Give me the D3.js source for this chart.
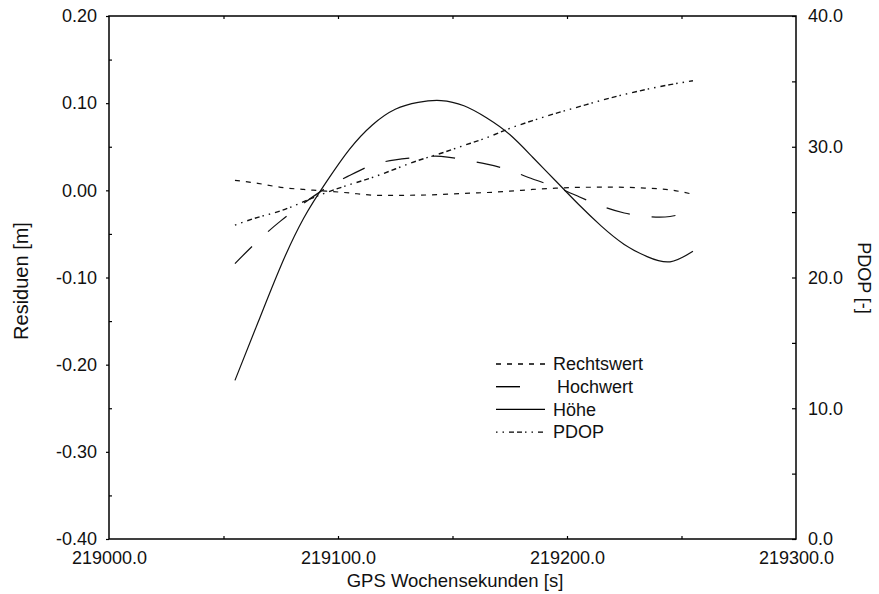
<!DOCTYPE html>
<html><head><meta charset="utf-8">
<script src="https://cdn.jsdelivr.net/npm/d3@7"></script>
<style>
body{margin:0;background:#fff;}
text{font-family:"Liberation Sans",Arial,sans-serif;fill:#111;}
</style></head><body>
<svg id="c" width="879" height="594"></svg>
<script>
const times = [219055,219065,219075,219085,219095,219105,219115,219125,219135,219145,219155,219165,219175,219185,219195,219205,219215,219225,219235,219245,219255];
const rechtswert = [0.0115,0.008,0.0035,0.001,-0.001,-0.003,-0.0055,-0.0058,-0.0055,-0.0048,-0.0035,-0.0025,-0.001,0.001,0.0025,0.0034,0.0036,0.0035,0.0025,0.0005,-0.0045];
const hochwert = [-0.084,-0.058,-0.035,-0.015,0.003,0.017,0.029,0.035,0.038,0.039,0.035,0.030,0.023,0.013,0.004,-0.007,-0.018,-0.026,-0.030,-0.030,-0.023];
const hoehe = [-0.218,-0.152,-0.087,-0.032,0.010,0.047,0.075,0.093,0.101,0.103,0.097,0.083,0.064,0.038,0.011,-0.016,-0.041,-0.062,-0.076,-0.082,-0.070];
const pdop = [24.0,24.6,25.1,25.8,26.5,27.1,27.65,28.3,28.95,29.5,30.1,30.7,31.4,32.0,32.55,33.05,33.55,34.0,34.4,34.75,35.05];
const seriesNames = ["Rechtswert","Hochwert","Höhe","PDOP"];
const xTicks = [219000,219100,219200,219300];
const yLeftTicks = [-0.4,-0.3,-0.2,-0.1,0,0.1,0.2];
const yRightTicks = [0,10,20,30,40];

const L=109,R=796,T=16,B=539;
const svg=d3.select("#c");
const x=d3.scaleLinear().domain([219000,219300]).range([L,R]);
const yL=d3.scaleLinear().domain([-0.4,0.2]).range([B,T]);
const yR=d3.scaleLinear().domain([0,40]).range([B,T]);

svg.append("rect").attr("x",L).attr("y",T).attr("width",R-L).attr("height",B-T)
  .attr("fill","none").attr("stroke","#000").attr("stroke-width",1.5);

const hy = s => s.replace("\u2212","-");
const fmt2=v=>hy(d3.format(".2f")(v)), fmt1=v=>hy(d3.format(".1f")(v));
const gl=svg.append("g").attr("transform",`translate(${L},0)`)
  .call(d3.axisLeft(yL).tickValues(yLeftTicks).tickSize(3).tickPadding(9).tickFormat(fmt2));
gl.select(".domain").remove();
const glm=svg.append("g").attr("transform",`translate(${L},0)`)
  .call(d3.axisRight(yL).tickValues(d3.range(-0.35,0.2,0.1)).tickSize(3).tickFormat(""));
glm.select(".domain").remove();
const gr=svg.append("g").attr("transform",`translate(${R},0)`)
  .call(d3.axisRight(yR).tickValues(yRightTicks).tickSize(0).tickPadding(12).tickFormat(fmt1));
gr.select(".domain").remove();
const grm=svg.append("g").attr("transform",`translate(${R},0)`)
  .call(d3.axisLeft(yR).tickValues(d3.range(0,40.1,5)).tickSize(4).tickFormat(""));
grm.select(".domain").remove();
const gb=svg.append("g").attr("transform",`translate(0,${B})`)
  .call(d3.axisBottom(x).tickValues(xTicks).tickSize(0).tickPadding(11).tickFormat(fmt1));
gb.select(".domain").remove();
const gbm=svg.append("g").attr("transform",`translate(0,${B})`)
  .call(d3.axisTop(x).tickValues(d3.range(219050,219300,50)).tickSize(3).tickFormat(""));
gbm.select(".domain").remove();
const gtm=svg.append("g").attr("transform",`translate(0,${T})`)
  .call(d3.axisBottom(x).tickValues(d3.range(219050,219300,50)).tickSize(3).tickFormat(""));
gtm.select(".domain").remove();
svg.selectAll(".tick line").attr("stroke","#000").attr("stroke-width",1.2);
svg.selectAll(".tick text").style("font-size","18px").attr("fill","#111")
  .style("font-family","'Liberation Sans',Arial,sans-serif");
gb.selectAll(".tick text").attr("dy","0.8em");

svg.append("text").attr("x",455).attr("y",587).attr("text-anchor","middle")
  .style("font-size","18.5px").text("GPS Wochensekunden [s]");
svg.append("text").attr("transform","translate(28,281) rotate(-90)").attr("text-anchor","middle")
  .style("font-size","20px").text("Residuen [m]");
svg.append("text").attr("transform","translate(858,278) rotate(90)").attr("text-anchor","middle")
  .style("font-size","18px").text("PDOP [-]");

const styles = {
  "Rechtswert":"5,6",
  "Hochwert":"24,22",
  "Höhe":null,
  "PDOP":"1.5,5,1.5,5,5,3,5,3"
};
const dataL = [rechtswert,hochwert,hoehe];
const lineL=d3.line().x((d,i)=>x(times[i])).y(d=>yL(d)).curve(d3.curveNatural);
const lineR=d3.line().x((d,i)=>x(times[i])).y(d=>yR(d)).curve(d3.curveNatural);
dataL.forEach((arr,k)=>{
  svg.append("path").datum(arr).attr("d",lineL).attr("fill","none")
    .attr("stroke","#111").attr("stroke-width",1.2)
    .attr("stroke-dasharray",styles[seriesNames[k]]);
});
svg.append("path").datum(pdop).attr("d",lineR).attr("fill","none")
  .attr("stroke","#111").attr("stroke-width",1.4)
  .attr("stroke-dasharray",styles["PDOP"]);

const lg=svg.append("g");
seriesNames.forEach((n,i)=>{
  const yy=364+i*22.7;
  const x1 = 496, x2 = n==="Hochwert"?522:545;
  lg.append("line").attr("x1",x1).attr("x2",x2).attr("y1",yy).attr("y2",yy)
    .attr("stroke","#000").attr("stroke-width",1.4).attr("stroke-dasharray",styles[n]);
  lg.append("text").attr("x",n==="Hochwert"?557:553).attr("y",yy).attr("dy","0.35em")
    .style("font-size","18px").text(n);
});
</script></body></html>
